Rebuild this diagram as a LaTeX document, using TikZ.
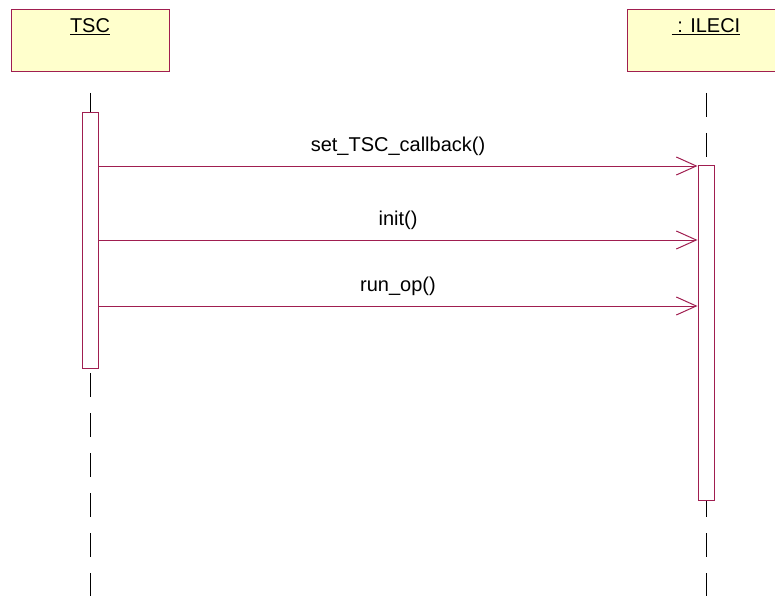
\documentclass[tikz,border=0pt]{standalone}
\usepackage{fontspec}
\setmainfont{Liberation Sans}
\usetikzlibrary{arrows.meta,positioning}
\definecolor{umlline}{RGB}{160,30,80}
\definecolor{umlfill}{RGB}{255,255,204}
\tikzset{
  objbox/.style={draw=umlline, fill=umlfill, line width=1pt, minimum width=158pt, minimum height=62pt, inner sep=0pt},
  objname/.style={anchor=base, font=\fontsize{20}{22}\selectfont},
  lifeline/.style={line width=1pt, dash pattern=on 24pt off 16pt},
  actbar/.style={draw=umlline, fill=white, line width=1pt, minimum width=16pt, inner sep=0pt},
  msg/.style={draw=umlline, line width=1pt, -{Straight Barb[length=20pt, width=18pt, line width=1pt]}},
  msglabel/.style={font=\fontsize{20}{22}\selectfont, anchor=base}
}
\begin{document}
\begin{tikzpicture}[x=1pt, y=-1pt]
\useasboundingbox (0,0) rectangle (775,596);

% objects
\node[objbox] (tsc) at (90,41) {};
\node[objbox, minimum width=153pt, anchor=west] (ileci) at (627,41) {};
\node[objname] (tscname) at (90,33) {\underline{TSC}};
\node[objname] (ileciname) at (706,33) {\underline{\ : ILECI}};

% lifelines
\draw[lifeline] (90,93) -- (90,596);
\draw[lifeline] (706,93) -- (706,596);

% activations
\node[actbar, minimum height=256pt, anchor=north] (tscact) at (90,112) {};
\node[actbar, minimum height=335pt, anchor=north] (ileciact) at (706,165) {};

% messages
\foreach \y/\txt in {166/set\_TSC\_callback(), 240/init(), 306/run\_op()}
{
    \draw[msg] (tscact.east |- 0,\y) -- (ileciact.west |- 0,\y)
        node[msglabel, pos=.5, yshift=15pt] {\txt};
}

\end{tikzpicture}
\end{document}
